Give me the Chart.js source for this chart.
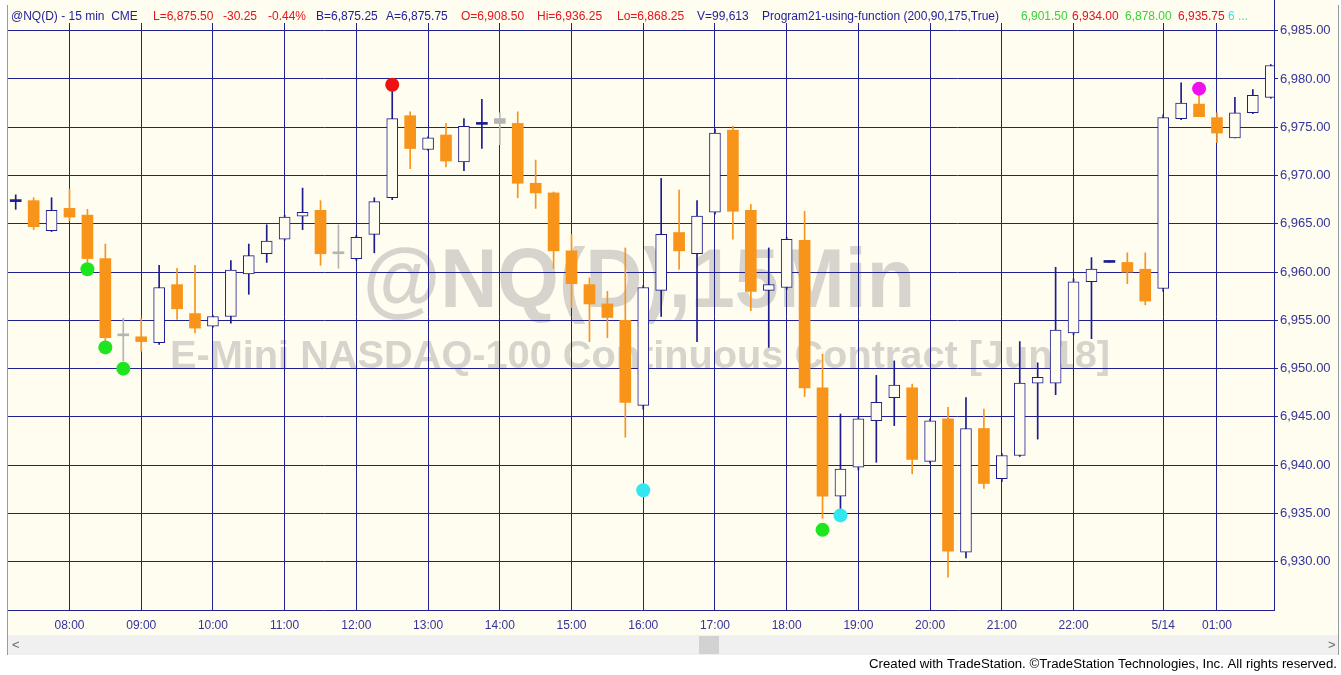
<!DOCTYPE html>
<html lang="en">
<head>
    <meta charset="UTF-8">
    <title>@NQ(D) - 15 min</title>
    <script src="https://cdn.jsdelivr.net/npm/chart.js@4.4.1/dist/chart.umd.min.js"></script>
    <style>
        html, body { margin: 0; padding: 0; background: #fff; }
        #wrap { width: 1341px; height: 675px; }
    </style>
</head>
<body>
<div id="wrap"><canvas id="nq-chart" width="1341" height="675"></canvas></div>
<script>
    // 15 min bars, 07:15 .. 5/14 01:45
    const opens  = [6967.3, 6967.4, 6964.3, 6966.6, 6965.9, 6961.4, 6953.4, 6953.3, 6952.7, 6958.7,
                    6955.7, 6954.4, 6955.4, 6959.8, 6961.9, 6963.4, 6965.8, 6966.4, 6961.9, 6961.4,
                    6963.9, 6967.7, 6976.2, 6972.7, 6974.2, 6971.4, 6975.3, 6975.9, 6975.4, 6969.2,
                    6968.2, 6962.2, 6958.7, 6956.7, 6955.0, 6946.2, 6958.1, 6964.1, 6961.9, 6966.2,
                    6974.7, 6966.4, 6958.1, 6958.4, 6963.3, 6948.0, 6936.8, 6939.8, 6944.6, 6947.0,
                    6948.0, 6940.4, 6944.8, 6931.0, 6943.8, 6938.6, 6941.0, 6948.5, 6948.5, 6953.7,
                    6959.0, 6961.0, 6961.0, 6960.3, 6958.3, 6975.9, 6977.4, 6976.0, 6973.9, 6976.5,
                    6978.1];
    const highs  = [6968.0, 6967.7, 6967.7, 6968.6, 6966.5, 6962.9, 6955.2, 6955.2, 6960.7, 6960.4,
                    6960.7, 6955.5, 6961.2, 6962.9, 6964.9, 6965.9, 6968.7, 6967.4, 6964.9, 6963.8,
                    6967.7, 6979.0, 6976.6, 6974.0, 6975.4, 6975.9, 6977.9, 6976.5, 6976.6, 6971.6,
                    6968.3, 6963.9, 6959.4, 6958.0, 6962.5, 6958.6, 6969.7, 6968.5, 6967.4, 6974.8,
                    6975.1, 6967.0, 6962.5, 6963.6, 6966.3, 6951.5, 6945.3, 6945.0, 6949.3, 6950.8,
                    6948.4, 6944.8, 6946.0, 6947.0, 6945.8, 6941.2, 6952.8, 6950.6, 6960.5, 6959.3,
                    6961.5, 6961.0, 6962.0, 6962.0, 6976.3, 6979.6, 6978.3, 6976.5, 6978.1, 6978.9,
                    6981.5];
    const lows   = [6966.5, 6964.4, 6964.2, 6965.3, 6961.0, 6952.8, 6950.8, 6951.8, 6952.5, 6955.1,
                    6953.7, 6954.3, 6954.7, 6957.7, 6961.0, 6963.3, 6964.4, 6960.7, 6960.4, 6961.2,
                    6962.0, 6967.5, 6970.7, 6972.6, 6970.9, 6970.5, 6972.8, 6973.2, 6967.7, 6966.6,
                    6960.4, 6956.3, 6952.8, 6953.2, 6942.9, 6945.8, 6955.4, 6960.3, 6952.8, 6966.0,
                    6963.4, 6956.0, 6952.2, 6958.2, 6947.1, 6934.5, 6935.5, 6939.5, 6940.3, 6944.1,
                    6939.1, 6940.2, 6928.4, 6930.4, 6937.6, 6938.3, 6940.9, 6942.7, 6947.3, 6953.5,
                    6953.1, 6961.0, 6958.8, 6956.6, 6958.0, 6975.8, 6976.1, 6973.4, 6973.9, 6976.4,
                    6978.0];
    const closes = [6967.3, 6964.7, 6966.4, 6965.7, 6961.4, 6953.2, 6953.4, 6952.8, 6958.4, 6956.2,
                    6954.2, 6955.4, 6960.2, 6961.7, 6963.2, 6965.7, 6966.2, 6961.9, 6961.9, 6963.6,
                    6967.3, 6975.9, 6972.8, 6973.9, 6971.5, 6975.1, 6975.3, 6975.4, 6969.2, 6968.2,
                    6962.2, 6958.8, 6956.7, 6955.3, 6946.5, 6958.4, 6963.9, 6962.2, 6965.8, 6974.4,
                    6966.3, 6958.0, 6958.7, 6963.4, 6948.0, 6936.8, 6939.6, 6944.8, 6946.5, 6948.3,
                    6940.6, 6944.6, 6931.1, 6943.8, 6938.1, 6941.0, 6948.5, 6949.1, 6954.0, 6959.0,
                    6960.3, 6961.0, 6960.0, 6957.0, 6976.0, 6977.5, 6976.1, 6974.4, 6976.5, 6978.3,
                    6981.4];
    const greyBars = [6, 18, 27];

    const xTickBars   = [3, 7, 11, 15, 19, 23, 27, 31, 35, 39, 43, 47, 51, 55, 59, 64, 67];
    const xTickLabels = ['08:00', '09:00', '10:00', '11:00', '12:00', '13:00', '14:00', '15:00', '16:00',
                         '17:00', '18:00', '19:00', '20:00', '21:00', '22:00', '5/14', '01:00'];
    const yTicks = [6930, 6935, 6940, 6945, 6950, 6955, 6960, 6965, 6970, 6975, 6980, 6985];

    // Program21 signal dots: [bar, price]
    const greenDots   = [[4, 6960.3], [5, 6952.2], [6, 6950.0], [45, 6933.3]];
    const redDots     = [[21, 6979.4]];
    const cyanDots    = [[35, 6937.4], [46, 6934.8]];
    const magentaDots = [[66, 6979.0]];

    const NAVY = '#1c1c8f';
    const GRID = '#20208f';
    const LABEL = '#34349a';
    const ORANGE = '#f8941a';
    const GREY = '#b4b4b4';
    const CREAM = '#fffcf0';
    const FONT = '"Liberation Sans", Arial, sans-serif';

    const kind = opens.map((o, i) => greyBars.includes(i) ? 'grey'
        : closes[i] > o ? 'up' : closes[i] < o ? 'down' : 'flat');
    const wickColor = {up: NAVY, flat: NAVY, down: ORANGE, grey: GREY};
    const bodyFill = {up: CREAM, flat: NAVY, down: ORANGE, grey: GREY};

    const dotSet = (pts, color) => ({
        type: 'scatter',
        data: pts.map(p => ({x: p[0], y: p[1]})),
        backgroundColor: color,
        borderWidth: 0,
        pointRadius: 7,
        order: 0
    });

    function fitText(c, txt, left, y, w) {
        const m = c.measureText(txt).width;
        c.save();
        c.translate(left, y);
        c.scale(w / m, 1);
        c.textAlign = 'left';
        c.fillText(txt, 0, 0);
        c.restore();
    }

    const frame = {
        id: 'frame',
        beforeDraw(chart) {
            const c = chart.ctx;
            c.save();
            c.fillStyle = '#fff';
            c.fillRect(0, 0, 1341, 675);
            c.fillStyle = CREAM;
            c.fillRect(8, 0, 1330, 635);
            // watermark
            c.fillStyle = '#d6d4cc';
            c.textBaseline = 'alphabetic';
            c.font = 'bold 84px ' + FONT;
            fitText(c, '@NQ(D),15Min', 363, 307, 552);
            c.font = 'bold 39px ' + FONT;
            fitText(c, 'E-Mini NASDAQ-100 Continuous Contract [Jun18]', 170, 368, 940);
            c.restore();
        },
        afterDraw(chart) {
            const c = chart.ctx;
            c.save();
            // header line
            const header = [
                ['@NQ(D) - 15 min  CME', 11, '#1e1e9a'], ['L=6,875.50', 153, '#e3141b'], ['-30.25', 223, '#e3141b'],
                ['-0.44%', 268, '#e3141b'], ['B=6,875.25', 316, '#1e1e9a'], ['A=6,875.75', 386, '#1e1e9a'],
                ['O=6,908.50', 461, '#e3141b'], ['Hi=6,936.25', 537, '#e3141b'], ['Lo=6,868.25', 617, '#e3141b'],
                ['V=99,613', 697, '#1e1e9a'], ['Program21-using-function (200,90,175,True)', 762, '#1e1e9a'],
                ['6,901.50', 1021, '#3ad23a'], ['6,934.00', 1072, '#e3141b'], ['6,878.00', 1125, '#3ad23a'],
                ['6,935.75', 1178, '#e3141b'], ['6 ...', 1228, '#3fdede']
            ];
            c.font = '12px ' + FONT;
            c.textBaseline = 'middle';
            c.textAlign = 'left';
            header.forEach(h => { c.fillStyle = h[2]; c.fillText(h[0], h[1], 17); });

            // scroll bar
            c.fillStyle = '#f0f0f0';
            c.fillRect(8, 635, 1330, 20);
            c.fillStyle = '#d2d2d2';
            c.fillRect(699, 636, 20, 18);
            c.fillStyle = '#666';
            c.font = '13px ' + FONT;
            c.fillText('<', 12, 645);
            c.fillText('>', 1328, 645);

            // footer
            c.fillStyle = '#000';
            c.font = '12px ' + FONT;
            fitText(c, 'Created with TradeStation. \u00a9TradeStation Technologies, Inc. All rights reserved.', 869, 665, 468);

            // outer frame
            c.strokeStyle = '#9a9a9a';
            c.lineWidth = 1;
            c.beginPath();
            c.moveTo(7.5, 5); c.lineTo(7.5, 655);
            c.moveTo(1338.5, 5); c.lineTo(1338.5, 655);
            c.stroke();
            c.strokeStyle = GRID;
            c.beginPath();
            c.moveTo(1274.5, 0); c.lineTo(1274.5, 23);
            c.stroke();
            c.restore();
        }
    };

    new Chart(document.getElementById('nq-chart'), {
        type: 'bar',
        data: {
            datasets: [{
                label: 'wicks',
                data: opens.map((o, i) => ({x: i, y: [lows[i], highs[i]]})),
                backgroundColor: kind.map(k => wickColor[k]),
                borderWidth: 0,
                barThickness: 1,
                grouped: false,
                order: 3
            }, {
                label: 'bodies',
                data: opens.map((o, i) => ({x: i, y: [o, closes[i]]})),
                backgroundColor: kind.map(k => bodyFill[k]),
                borderColor: NAVY,
                borderWidth: kind.map(k => k === 'up' ? 1 : 0),
                borderSkipped: false,
                barThickness: 11,
                minBarLength: 2,
                grouped: false,
                order: 2
            },
                dotSet(greenDots, '#1ee61e'),
                dotSet(redDots, '#ee1111'),
                dotSet(cyanDots, '#33e6f0'),
                dotSet(magentaDots, '#ee11ee')
            ]
        },
        options: {
            responsive: false,
            devicePixelRatio: 1,
            animation: false,
            events: [],
            layout: {padding: {left: 8, top: 23, right: 0, bottom: 40}},
            plugins: {legend: {display: false}, tooltip: {enabled: false}},
            scales: {
                x: {
                    type: 'linear',
                    min: -0.43,
                    max: 70.18,
                    offset: false,
                    afterBuildTicks: s => { s.ticks = xTickBars.map(v => ({value: v})); },
                    afterFit: s => { s.height = 25; },
                    ticks: {
                        autoSkip: false,
                        maxRotation: 0,
                        padding: 8,
                        color: LABEL,
                        font: {family: FONT, size: 12},
                        callback: v => xTickLabels[xTickBars.indexOf(v)]
                    },
                    grid: {color: GRID, lineWidth: 1, drawTicks: false, offset: false},
                    border: {color: GRID}
                },
                y: {
                    position: 'right',
                    min: 6925.0,
                    max: 6985.8,
                    afterBuildTicks: s => { s.ticks = yTicks.map(v => ({value: v})); },
                    afterFit: s => { s.width = 67; },
                    ticks: {
                        padding: 2,
                        color: LABEL,
                        font: {family: FONT, size: 13},
                        callback: v => v.toLocaleString('en-US', {minimumFractionDigits: 2, maximumFractionDigits: 2})
                    },
                    grid: {color: GRID, lineWidth: 1, tickLength: 4, tickColor: GRID},
                    border: {color: GRID}
                }
            }
        },
        plugins: [frame]
    });
</script>
</body>
</html>
